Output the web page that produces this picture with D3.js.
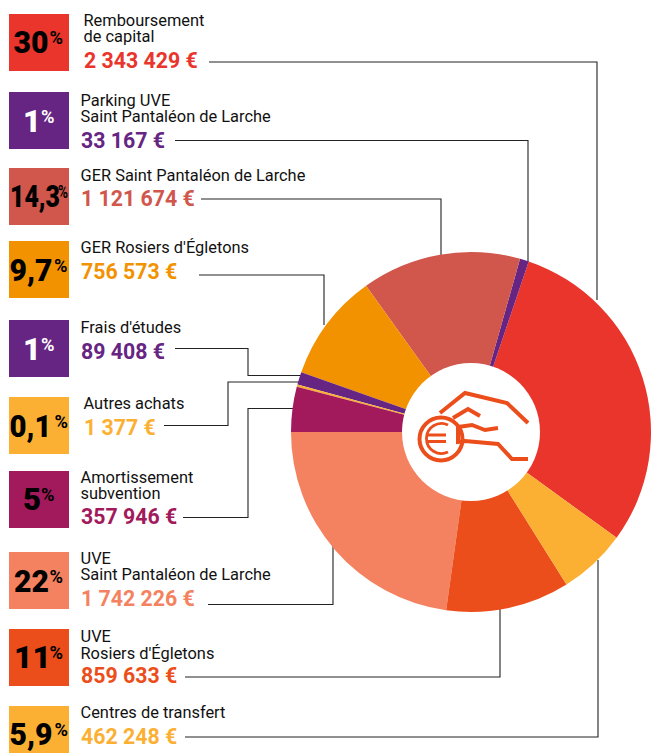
<!DOCTYPE html>
<html><head><meta charset="utf-8">
<script src="https://cdn.jsdelivr.net/npm/d3@7/dist/d3.min.js"></script>
<style>html,body{margin:0;padding:0;background:#fff;overflow:hidden}svg{display:block}text{font-family:Roboto,sans-serif}</style>
</head><body><svg id="c" width="651" height="753"></svg>
<script>
// ---- data
const names = [["Remboursement","de capital"],["Parking UVE","Saint Pantaléon de Larche"],["GER Saint Pantaléon de Larche"],["GER Rosiers d'Égletons"],["Frais d'études"],["Autres achats"],["Amortissement","subvention"],["UVE","Saint Pantaléon de Larche"],["UVE","Rosiers d'Égletons"],["Centres de transfert"]];
const percentLabels = ["30","1","14,3","9,7","1","0,1","5","22","11","5,9"];
const amountLabels = ["2 343 429 €","33 167 €","1 121 674 €","756 573 €","89 408 €","1 377 €","357 946 €","1 742 226 €","859 633 €","462 248 €"];
// slice shares (%)
const sliceShares = [29.8,0.8,14.3,9.7,1.13,0.22,4.03,22.8,11.1,6.1];
const colors = ["#E9352B","#662483","#D1564B","#F39200","#662483","#FBB034","#A21A5B","#F48260","#EC4E1B","#FBB034"];
const percentFill = ["#000","#fff","#000","#000","#fff","#000","#000","#000","#000","#000"];

// ---- layout
const boxTop = [14,92,168,241,320,397,471,552,629,706];
const textX = [84,81,81,81,81,84,81,81,81,81];
const nameBase = [[26,42],[106,122],[181],[253],[333],[409],[483,499],[564,580],[642,658.5],[718]];
const amountBase = [67.5,147.5,206,279,358.5,435,524,606,683,744];
const pctX = [13.5,23,10,9.5,23,9.5,23,14,14,9.5];
const pctW = [35,18,50,43,18,42,18,35,37,43];
const pctBase = [53,131.5,207,281,359.5,437,510,592,668,745];
const supX = [49.5,41,58,54,41,54.5,41,49.5,49.5,54.5];
const supW = [13.5,13.5,10,13.5,13.5,13.5,13.5,13.5,13.5,13.5];
const leaders = [
 [[209,62],[597,62],[597,300]],
 [[175,140.5],[528,140.5],[528,262]],
 [[201,199],[441,199],[441,255]],
 [[199,275],[324,275],[324,325]],
 [[175,348.5],[248,348.5],[248,375.5],[305,375.5]],
 [[164,425.5],[228,425.5],[228,382],[305,382]],
 [[183,517.5],[248,517.5],[248,408.5],[300,408.5]],
 [[208,604.5],[333,604.5],[333,540]],
 [[185,677],[500,677],[500,600]],
 [[185,737],[598,737],[598,560]]
];
const cx = 471, cy = 432, R = 180, r = 69;

const svg = d3.select("#c");
const line = d3.line();

// leaders under the pie
svg.append("g").selectAll("path").data(leaders).join("path")
  .attr("d", d=>line(d)).attr("fill","none").attr("stroke","#222").attr("stroke-width",1.1);

// pie: legend order runs anticlockwise, starting at the right-hand end of the red slice
const deg = Math.PI/180;
const pie = d3.pie().sort(null).startAngle(126*deg).endAngle((126-360)*deg);
const arc = d3.arc().innerRadius(r-4).outerRadius(R);
svg.append("g").attr("transform",`translate(${cx},${cy})`)
  .selectAll("path").data(pie(sliceShares)).join("path")
  .attr("d",arc).attr("fill",(d,i)=>colors[i]);
svg.append("circle").attr("cx",cx).attr("cy",cy).attr("r",r).attr("fill","#fff");

// boxes + text
const rows = svg.append("g").selectAll("g").data(names).join("g");
rows.append("rect").attr("x",9).attr("width",60).attr("height",57)
  .attr("y",(d,i)=>boxTop[i]).attr("fill",(d,i)=>colors[i]);
rows.append("text").attr("x",(d,i)=>pctX[i]).attr("y",(d,i)=>pctBase[i])
  .attr("font-size",31).attr("font-weight",900)
  .attr("textLength",(d,i)=>pctW[i]).attr("lengthAdjust","spacingAndGlyphs")
  .attr("fill",(d,i)=>percentFill[i]).text((d,i)=>percentLabels[i]);
rows.append("text").attr("x",(d,i)=>supX[i]).attr("y",(d,i)=>pctBase[i]-9)
  .attr("font-size",18).attr("font-weight",700)
  .attr("textLength",(d,i)=>supW[i]).attr("lengthAdjust","spacingAndGlyphs")
  .attr("fill",(d,i)=>percentFill[i]).text("%");
rows.each(function(d,i){
  d3.select(this).selectAll("text.n").data(d).join("text").attr("class","n")
    .attr("x",textX[i]-0.5).attr("y",(t,j)=>nameBase[i][j])
    .attr("font-size",16.4).attr("fill","#111").text(t=>t);
});
rows.append("text").attr("x",(d,i)=>textX[i]).attr("y",(d,i)=>amountBase[i])
  .attr("font-size",21.3).attr("font-weight",700)
  .attr("fill",(d,i)=>colors[i]).text((d,i)=>amountLabels[i]);

// hand & coin icon
const ic = svg.append("g").attr("fill","none").attr("stroke","#EC4E1B").attr("stroke-width",4);
[[[440,413],[465,393],[507,403],[528,423]],
 [[453,418],[468,409],[480,416]],
 [[458,427],[472,425],[485,430],[498,428]],
 [[458,427],[458,442],[465,441],[498,444],[512,459],[528,459]]
].forEach(p=>ic.append("path").attr("d",line(p)));
ic.append("circle").attr("cx",441).attr("cy",439).attr("r",21.5);
const eu = svg.append("g").attr("fill","none").attr("stroke","#EC4E1B").attr("stroke-width",2.8);
eu.append("path").attr("d","M448 425 A15 15 0 1 0 448 452");
eu.append("path").attr("d","M426 435 H446 M426 441.5 H446");
</script></body></html>
